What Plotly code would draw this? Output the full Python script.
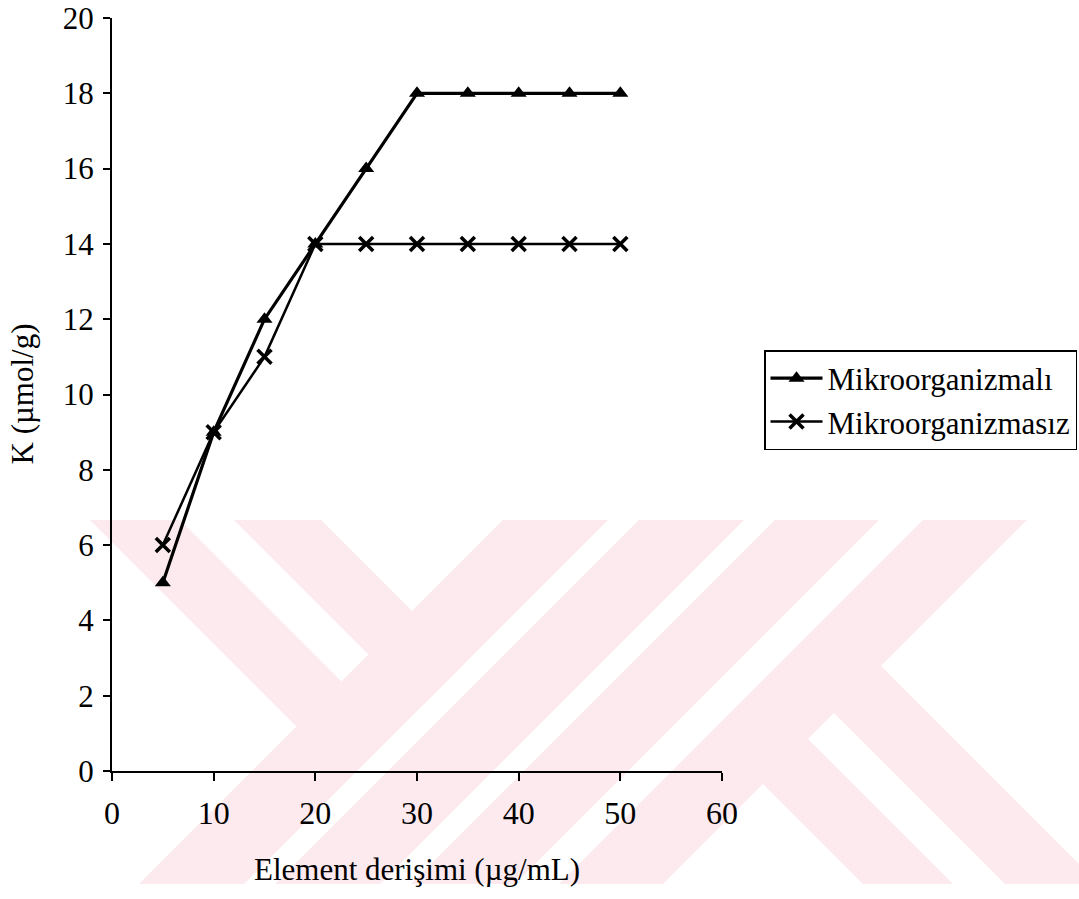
import plotly.graph_objects as go

# Element concentration (µg/mL) and adsorption K (µmol/g)
konsantrasyon = [5, 10, 15, 20, 25, 30, 35, 40, 45, 50]
k_mikroorganizmali = [5, 9, 12, 14, 16, 18, 18, 18, 18, 18]
k_mikroorganizmasiz = [6, 9, 11, 14, 14, 14, 14, 14, 14, 14]

x_ticks = [0, 10, 20, 30, 40, 50, 60]
y_ticks = [0, 2, 4, 6, 8, 10, 12, 14, 16, 18, 20]

W, H = 1079, 899
L_PX, R_PX, T_PX, B_PX = 112, 722, 18, 771  # plot area in page pixels
FONT = "Liberation Serif, Times New Roman, serif"
WM_COLOR = "rgb(253,234,238)"


def to_paper(px, py):
    return (px - L_PX) / (R_PX - L_PX), (B_PX - py) / (B_PX - T_PX)


# background emblem: diagonal bars, given as page-pixel polygons
emblem = [
    [(90, 520), (180, 520), (394, 734), (296.5, 726.5)],
    [(234, 520), (321, 520), (464.5, 663.5), (421, 707)],
    [(503, 520), (608, 520), (244, 884), (139, 884)],
    [(639, 520), (744, 520), (380, 884), (275, 884)],
    [(775, 520), (879, 520), (515, 884), (411, 884)],
    [(923, 520), (1027, 520), (663, 884), (559, 884)],
    [(782, 661), (881, 666), (1099, 884), (1005, 884)],
    [(711, 732), (808, 739), (953, 884), (863, 884)],
]

shapes = []
for poly in emblem:
    pts = [to_paper(x, y) for x, y in poly]
    path = "M " + " L ".join(f"{x:.5f},{y:.5f}" for x, y in pts) + " Z"
    shapes.append(dict(type="path", xref="paper", yref="paper", path=path,
                       fillcolor=WM_COLOR, line=dict(width=0), layer="below"))

fig = go.Figure()
fig.add_trace(go.Scatter(
    x=konsantrasyon, y=k_mikroorganizmali, name="Mikroorganizmalı",
    mode="lines+markers",
    line=dict(color="black", width=3.2),
    marker=dict(symbol="triangle-up", size=14, color="black"),
))
fig.add_trace(go.Scatter(
    x=konsantrasyon, y=k_mikroorganizmasiz, name="Mikroorganizmasız",
    mode="lines+markers",
    line=dict(color="black", width=2.5),
    marker=dict(symbol="x-thin", size=14, color="black",
                line=dict(color="black", width=3.5)),
))

lx, ly = to_paper(764, 350)
ytx, _ = to_paper(22, 0)
fig.update_layout(
    width=W, height=H,
    margin=dict(l=L_PX, r=W - R_PX, t=T_PX, b=H - B_PX, autoexpand=False),
    paper_bgcolor="white", plot_bgcolor="rgba(0,0,0,0)",
    font=dict(family=FONT, color="black", size=31),
    shapes=shapes,
    showlegend=True,
    legend=dict(x=lx, y=ly, xanchor="left", yanchor="top",
                bordercolor="black", borderwidth=1.5, bgcolor="rgba(0,0,0,0)",
                font=dict(family=FONT, size=31, color="black"),
                itemwidth=52, tracegroupgap=0),
    xaxis=dict(range=[0, 60], tickvals=x_ticks, showgrid=False, zeroline=False,
               showline=True, linecolor="black", linewidth=2,
               ticks="outside", ticklen=8, tickwidth=1.5, tickcolor="black",
               tickfont=dict(family=FONT, size=32), ticklabelstandoff=5,
               ticklabeloverflow="allow",
               title=dict(text="Element derişimi (µg/mL)", standoff=28,
                          font=dict(family=FONT, size=31))),
    yaxis=dict(range=[0, 20], tickvals=y_ticks, showgrid=False, zeroline=False,
               showline=True, linecolor="black", linewidth=2,
               ticks="outside", ticklen=7, tickwidth=1.5, tickcolor="black",
               tickfont=dict(family=FONT, size=31), ticklabelstandoff=3,
               ticklabeloverflow="allow"),
    annotations=[dict(text="K (µmol/g)", textangle=-90, showarrow=False,
                      xref="paper", yref="paper", x=ytx, y=0.5,
                      xanchor="center", yanchor="middle",
                      font=dict(family=FONT, size=31, color="black"))],
)

fig.write_html("out.html")
